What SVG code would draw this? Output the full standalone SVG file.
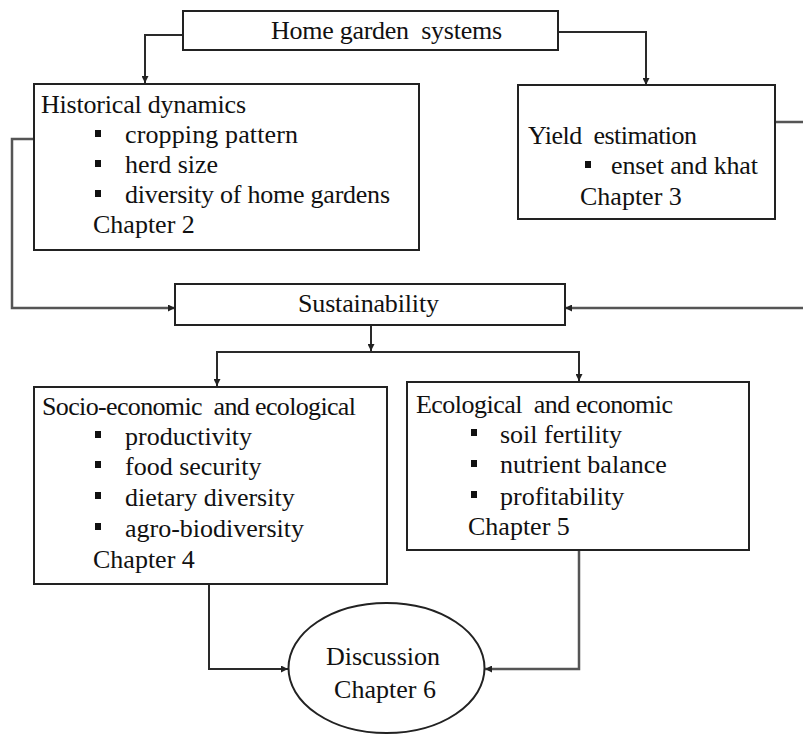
<svg xmlns="http://www.w3.org/2000/svg" width="803" height="735" viewBox="0 0 803 735">
  <style>
    .box { fill: #ffffff; stroke: #222222; stroke-width: 2; }
    .link { fill: none; stroke: #2a2a2a; stroke-width: 2; }
    .soft { stroke: #555555; stroke-width: 2.5; }
    text { font-family: "Liberation Serif", "Times New Roman", serif; font-size: 26px; fill: #111111; white-space: pre; }
    .bullet { fill: #111111; }
  </style>
  <defs>
    <marker id="arrow" viewBox="0 0 10 10" refX="10" refY="5" markerWidth="7" markerHeight="7" markerUnits="userSpaceOnUse" orient="auto">
      <path d="M0,0 L10,5 L0,10 Z" fill="#222222"/>
    </marker>
  </defs>
  <rect width="803" height="735" fill="#ffffff"/>

  <!-- connectors -->
  <g id="connectors">
    <path class="link" d="M183,35 H145 V83" marker-end="url(#arrow)"/>
    <path class="link" d="M558,32 H646 V85" marker-end="url(#arrow)"/>
    <path class="link soft" d="M34,139 H12 V308 H175" marker-end="url(#arrow)"/>
    <path class="link soft" d="M775,122 H815 V308 H565" marker-end="url(#arrow)"/>
    <path class="link" d="M371,325 V351" marker-end="url(#arrow)"/>
    <path class="link" d="M371,352 H217 V386" marker-end="url(#arrow)"/>
    <path class="link" d="M371,352 H579 V381" marker-end="url(#arrow)"/>
    <path class="link" d="M209,584 V669 H288" marker-end="url(#arrow)"/>
    <path class="link soft" d="M579,550 V669 H485" marker-end="url(#arrow)"/>
  </g>

  <g id="home-garden">
    <rect class="box" x="183" y="11" width="375" height="39"/>
    <text x="271" y="39" textLength="231" xml:space="preserve">Home garden  systems</text>
  </g>

  <g id="historical">
    <rect class="box" x="34" y="84" width="385" height="166"/>
    <text x="41" y="113" textLength="205">Historical dynamics</text>
    <rect class="bullet" x="95" y="130" width="6" height="7"/>
    <text x="125" y="143" textLength="173">cropping pattern</text>
    <rect class="bullet" x="95" y="160" width="6" height="7"/>
    <text x="125" y="173">herd size</text>
    <rect class="bullet" x="95" y="190" width="6" height="7"/>
    <text x="125" y="203" textLength="265">diversity of home gardens</text>
    <text x="93" y="233">Chapter 2</text>
  </g>

  <g id="yield">
    <rect class="box" x="518" y="85" width="257" height="134"/>
    <text x="528" y="144" textLength="169" xml:space="preserve">Yield  estimation</text>
    <rect class="bullet" x="585" y="161" width="6" height="7"/>
    <text x="611" y="174" textLength="147">enset and khat</text>
    <text x="580" y="205">Chapter 3</text>
  </g>

  <g id="sustainability">
    <rect class="box" x="175" y="284" width="390" height="41"/>
    <text x="298" y="312" textLength="141">Sustainability</text>
  </g>

  <g id="socio-economic">
    <rect class="box" x="34" y="387" width="353" height="197"/>
    <text x="42" y="415" textLength="314" xml:space="preserve">Socio-economic  and ecological</text>
    <rect class="bullet" x="95" y="431" width="6" height="7"/>
    <text x="125" y="445">productivity</text>
    <rect class="bullet" x="95" y="461" width="6" height="7"/>
    <text x="125" y="475">food security</text>
    <rect class="bullet" x="95" y="492" width="6" height="7"/>
    <text x="125" y="506">dietary diversity</text>
    <rect class="bullet" x="95" y="523" width="6" height="7"/>
    <text x="125" y="537">agro-biodiversity</text>
    <text x="93" y="568">Chapter 4</text>
  </g>

  <g id="ecological">
    <rect class="box" x="407" y="382" width="342" height="168"/>
    <text x="416" y="413" textLength="257" xml:space="preserve">Ecological  and economic</text>
    <rect class="bullet" x="471" y="429" width="6" height="7"/>
    <text x="500" y="443">soil fertility</text>
    <rect class="bullet" x="471" y="460" width="6" height="7"/>
    <text x="500" y="473">nutrient balance</text>
    <rect class="bullet" x="471" y="491" width="6" height="7"/>
    <text x="500" y="505">profitability</text>
    <text x="468" y="535">Chapter 5</text>
  </g>

  <g id="discussion">
    <ellipse class="box" cx="386.5" cy="668" rx="98" ry="65"/>
    <text x="383" y="665" text-anchor="middle">Discussion</text>
    <text x="385" y="698" text-anchor="middle">Chapter 6</text>
  </g>
</svg>
